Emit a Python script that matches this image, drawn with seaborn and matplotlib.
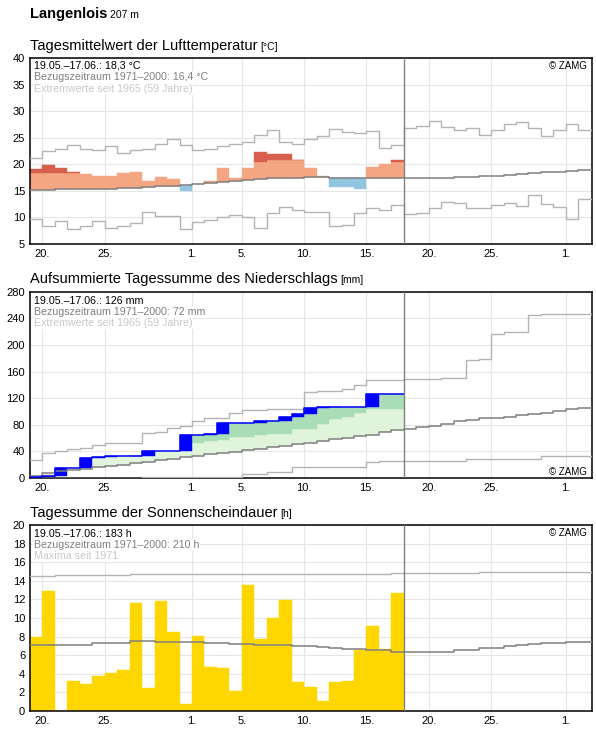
import numpy as np
import pandas as pd
import matplotlib
matplotlib.use("Agg")
import matplotlib.pyplot as plt
import seaborn as sns

sns.set_theme(style="whitegrid")
plt.rcParams["font.family"] = ["Liberation Sans", "DejaVu Sans"]

# Tage ab 19.05. (0) bis 02.07. (44); gemessen bis 17.06. (29)
tick_pos = [1, 6, 13, 17, 22, 27, 32, 37, 43]
tick_lab = ["20.", "25.", "1.", "5.", "10.", "15.", "20.", "25.", "1."]

# Lufttemperatur (Tagesmittel, °C)
temp_obs = [19.1, 19.8, 19.4, 18.5, 18.1, 17.75, 17.75, 18.3, 18.5, 16.9,
            17.55, 17.2, 15.0, 16.4, 16.9, 19.4, 17.4, 19.4, 22.4, 21.9,
            21.9, 20.9, 19.4, 17.9, 15.75, 15.75, 15.3, 19.6, 20.05, 20.75]
temp_upper = [18.3, 18.3, 18.4, 18.4, 18.4, 18.5, 18.5, 18.6, 18.7, 18.8,
              19.0, 19.1, 19.3, 19.5, 19.7, 19.9, 20.1, 20.3, 20.5, 20.8,
              20.8, 20.8, 20.9, 20.9, 20.8, 20.8, 20.8, 20.6, 20.5, 20.4]
temp_norm = [15.25, 15.25, 15.4, 15.4, 15.4, 15.4, 15.4, 15.5, 15.6, 15.7,
             15.85, 15.9, 16.1, 16.3, 16.5, 16.7, 16.9, 17.0, 17.25, 17.45,
             17.45, 17.45, 17.6, 17.6, 17.5, 17.5, 17.5, 17.35, 17.35, 17.35,
             17.35, 17.4, 17.45, 17.5, 17.55, 17.6, 17.8, 17.9, 18.05, 18.2,
             18.3, 18.5, 18.6, 18.8, 19.0]
temp_max = [21.25, 22.6, 22.9, 23.6, 22.9, 22.7, 23.4, 22.1, 22.7, 22.9,
            23.8, 24.8, 23.7, 22.75, 22.9, 23.5, 23.9, 24.25, 25.6, 26.5,
            24.25, 23.9, 24.8, 25.4, 26.7, 26.1, 25.9, 26.25, 23.0, 23.75,
            26.9, 27.2, 28.25, 27.1, 26.5, 26.8, 25.6, 26.5, 27.7, 27.9,
            26.8, 25.4, 26.5, 27.6, 26.4]
temp_min = [9.7, 8.45, 9.4, 7.9, 8.45, 9.4, 8.1, 8.45, 8.95, 11.1,
            10.2, 10.3, 7.9, 9.1, 9.5, 10.0, 10.4, 10.0, 8.1, 10.9,
            11.9, 11.4, 11.1, 11.1, 8.45, 8.6, 10.9, 11.7, 11.4, 12.3,
            10.6, 10.9, 11.7, 13.0, 12.7, 11.7, 11.7, 12.4, 12.8, 12.1,
            14.3, 12.6, 11.9, 9.8, 13.4]

# Niederschlag (Tagessumme, mm) und aufsummierte Vergleichswerte
prec_day = [1.5, 2.0, 11.1, 0, 15.0, 2.0, 1.0, 0, 1.0, 7.0,
            0, 0, 24.6, 0, 1.0, 16.5, 0, 0, 2.6, 0,
            7.0, 4.0, 9.0, 1.0, 1.0, 0, 0, 18.7, 0, 0]
prec_band = [4, 9, 15, 19, 21, 34, 35, 36, 38, 40,
             43, 45, 48, 52.9, 55.5, 57, 61.5, 61.5, 64.5, 66.6,
             66.6, 73, 73, 81.7, 88, 91.8, 98.3, 103, 103, 103.4]
prec_norm = [2.5, 7.5, 10.5, 12.5, 14, 16, 17.6, 19.6, 22, 24,
             26.6, 28.6, 31, 33.6, 36, 37.6, 39.6, 41.6, 44, 46.6,
             48.6, 50.6, 53, 55.6, 58, 60, 62.7, 65, 68.7, 71.7,
             73.6, 76.7, 78.7, 81.7, 85.2, 87.2, 89.7, 90.7, 92.2, 94.2,
             96.2, 97.2, 100.2, 103.7, 105.7]
prec_max = [26.7, 37.8, 40.3, 42.9, 44.4, 49.4, 53, 53, 53, 68,
            69, 75.6, 78, 85.7, 90.8, 90.8, 97.3, 101.9, 101.9, 103.4,
            103.4, 103.4, 128.6, 130.6, 130.6, 133.6, 140.2, 147.2, 147.2, 147.2,
            148.3, 149.3, 149.3, 150.8, 150.8, 177.9, 179.4, 216.4, 220, 220,
            245.5, 246.5, 246.5, 246.5, 246.5]
prec_min = [0, 0, 0, 0, 0, 0, 0, 0, 0, 0.8,
            0.8, 0.8, 0.8, 0.8, 0.8, 0.8, 0.8, 6, 6, 8.5,
            8.5, 16, 16, 16, 16, 16, 16, 23.6, 25, 25,
            25, 25, 25, 25, 25, 29, 29, 29, 29, 29,
            29, 33, 33, 33, 33]

# Sonnenscheindauer (h)
sun_obs = [8.0, 12.9, 0, 3.2, 2.9, 3.75, 4.07, 4.4, 11.64, 2.45,
           11.86, 8.5, 0.72, 8.07, 4.72, 4.61, 2.13, 13.59, 7.75, 10.0,
           11.96, 3.1, 2.56, 1.05, 3.1, 3.2, 6.6, 9.15, 6.63, 12.72]
sun_norm = [7.05, 7.05, 7.05, 7.05, 7.1, 7.28, 7.28, 7.35, 7.5, 7.5,
            7.4, 7.4, 7.4, 7.4, 7.3, 7.3, 7.17, 7.17, 7.15, 7.06,
            7.06, 6.99, 6.95, 6.88, 6.77, 6.67, 6.63, 6.6, 6.52, 6.35,
            6.31, 6.38, 6.38, 6.38, 6.53, 6.53, 6.78, 6.78, 7.0, 7.1,
            7.2, 7.3, 7.3, 7.4, 7.4]
sun_max = [14.5, 14.5, 14.6, 14.6, 14.6, 14.67, 14.67, 14.67, 14.77, 14.77,
           14.77, 14.77, 14.77, 14.77, 14.77, 14.77, 14.77, 14.77, 14.77, 14.77,
           14.77, 14.77, 14.77, 14.77, 14.77, 14.77, 14.77, 14.77, 14.77, 14.85,
           14.85, 14.85, 14.85, 14.85, 14.85, 14.85, 14.95, 14.95, 14.95, 14.95,
           14.95, 14.95, 14.95, 14.95, 14.95]

N_OBS = 30
X_END = 45.1
days = np.arange(N_OBS)

C_NORM = "#7f7f7f"
C_EXT = "#b4b4b4"

fig = plt.figure(figsize=(5.96, 7.29), dpi=100)
W, H = 596, 729


def add_panel(top_px, bottom_px):
    return fig.add_axes([30 / W, 1 - bottom_px / H, 562 / W, (bottom_px - top_px) / H])


def style(ax, ylim, yticks):
    ax.set_xlim(0, X_END)
    ax.set_ylim(*ylim)
    ax.set_yticks(yticks)
    ax.set_xticks(tick_pos)
    ax.set_xticklabels(tick_lab)
    ax.tick_params(length=0, pad=3.5, labelsize=8, colors="black")
    ax.grid(True, color="#e6e6e6", linewidth=0.8)
    for s in ax.spines.values():
        s.set_color("black")
        s.set_linewidth(1.1)
    ax.axvline(N_OBS, color="#808080", linewidth=1.0, zorder=4)
    ax.set_xlabel("")
    ax.set_ylabel("")


def step(ax, vals, color, lw, z=3):
    vals = np.asarray(vals, dtype=float)
    end = N_OBS if len(vals) == N_OBS else X_END
    x = np.append(np.arange(len(vals)), end)
    y = np.append(vals, vals[-1])
    sns.lineplot(x=x, y=y, drawstyle="steps-post", color=color, linewidth=lw,
                 estimator=None, legend=False, ax=ax, zorder=z)


def infotext(ax, lines, colors, offs):
    for txt, c, o in zip(lines, colors, offs):
        ax.annotate(txt, xy=(0, 1), xycoords="axes fraction", xytext=(4, o),
                    textcoords="offset pixels", va="center", ha="left",
                    fontsize=7.7, color=c, zorder=6,
                    bbox=dict(facecolor="white", edgecolor="none", pad=0.6))


def zamg(ax, top=True):
    yo = -8 if top else 6
    ax.annotate("© ZAMG", xy=(1, 1 if top else 0), xycoords="axes fraction",
                xytext=(-5, yo), textcoords="offset pixels", ha="right",
                va="center", fontsize=7, color="black", zorder=6)


def bars(ax, mask, height, bottom, color):
    ax.bar(days[mask], np.asarray(height)[mask], bottom=np.asarray(bottom)[mask],
           width=1, align="edge", color=color, edgecolor=color, linewidth=0.3, zorder=2)


# --- Temperatur ---
ax1 = add_panel(58.3, 244)
t_obs = np.array(temp_obs)
t_up = np.array(temp_upper)
t_n = np.array(temp_norm[:N_OBS])
warm = t_obs >= t_n
bars(ax1, warm, np.minimum(t_obs, t_up) - t_n, t_n, "#f4a582")
bars(ax1, t_obs > t_up, t_obs - t_up, t_up, "#d6604d")
bars(ax1, ~warm, t_n - t_obs, t_obs, "#92c5de")
step(ax1, temp_max, C_EXT, 1.0)
step(ax1, temp_min, C_EXT, 1.0)
step(ax1, temp_norm, C_NORM, 1.1)
style(ax1, (5, 40), range(5, 41, 5))
infotext(ax1, ["19.05.–17.06.: 18,3 °C", "Bezugszeitraum 1971–2000: 16,4 °C",
               "Extremwerte seit 1965 (59 Jahre)"],
         ["black", "#808080", "#c8c8c8"], [-7, -19, -31])
zamg(ax1, True)

# --- Niederschlag ---
ax2 = add_panel(291.7, 478)
p_day = np.array(prec_day)
p_cum = np.cumsum(p_day)
p_prev = np.append(0, p_cum[:-1])
p_n = np.array(prec_norm[:N_OBS])
p_b = np.array(prec_band)
wet = p_prev > p_n
bars(ax2, wet, np.minimum(p_prev, p_b) - p_n, p_n, "#e0f3db")
bars(ax2, p_prev > p_b, p_prev - p_b, p_b, "#a8ddb5")
bars(ax2, p_cum < p_n, p_n - p_cum, p_cum, "#f6ebc8")
bars(ax2, p_day > 0, p_day, p_prev, "#0000ff")
step(ax2, prec_max, C_EXT, 1.0)
step(ax2, prec_min, C_EXT, 1.0)
step(ax2, prec_norm, C_NORM, 1.1)
step(ax2, p_cum, "#0000ff", 1.1, z=3.5)
style(ax2, (0, 280), range(0, 281, 40))
infotext(ax2, ["19.05.–17.06.: 126 mm", "Bezugszeitraum 1971–2000: 72 mm",
               "Extremwerte seit 1965 (59 Jahre)"],
         ["black", "#808080", "#c8c8c8"], [-9, -20, -31])
zamg(ax2, False)

# --- Sonnenschein ---
ax3 = add_panel(525, 711)
sun_df = pd.DataFrame({"day": days + 0.5, "hours": sun_obs})
sns.histplot(data=sun_df, x="day", weights="hours", binwidth=1, binrange=(0, N_OBS),
             color="#ffd700", alpha=1, ax=ax3)
for p in ax3.patches:
    p.set_edgecolor("#ffd700")
    p.set_linewidth(0.3)
    p.set_zorder(2)
step(ax3, sun_max, C_EXT, 1.0)
step(ax3, sun_norm, C_NORM, 1.1)
style(ax3, (0, 20), range(0, 21, 2))
infotext(ax3, ["19.05.–17.06.: 183 h", "Bezugszeitraum 1971–2000: 210 h",
               "Maxima seit 1971"],
         ["black", "#808080", "#c8c8c8"], [-9, -20, -31])
zamg(ax3, True)

# --- Überschriften ---
heads = [
    (18.3, "Langenlois", "207 m", 10.5, "bold", 7.5),
    (50, "Tagesmittelwert der Lufttemperatur", "[°C]", 10.5, "normal", 7.5),
    (282.7, "Aufsummierte Tagessumme des Niederschlags", "[mm]", 10.5, "normal", 7.5),
    (516.7, "Tagessumme der Sonnenscheindauer", "[h]", 10.5, "normal", 7.5),
]
fig.canvas.draw()
renderer = fig.canvas.get_renderer()
for y_px, main, unit, fs, fw, ufs in heads:
    t = fig.text(30 / W, 1 - y_px / H, main, fontsize=fs, fontweight=fw,
                 va="baseline", ha="left", color="black")
    bb = t.get_window_extent(renderer=renderer)
    fig.text((bb.x1 + 3) / W, 1 - y_px / H, unit, fontsize=ufs,
             va="baseline", ha="left", color="black")

fig.savefig("out.png", dpi=100)
